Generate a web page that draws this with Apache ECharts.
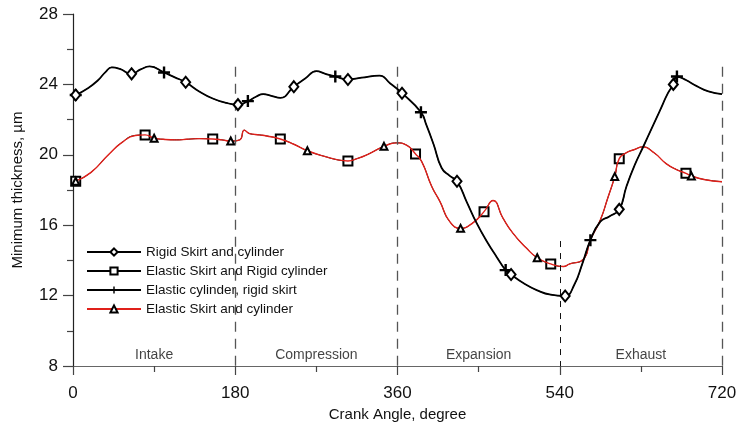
<!DOCTYPE html>
<html>
<head>
<meta charset="utf-8">
<script src="https://cdn.jsdelivr.net/npm/echarts@6/dist/echarts.min.js"></script>
<style>
  html, body { margin: 0; padding: 0; background: #fff; }
  #chart { width: 741px; height: 427px; }
</style>
</head>
<body>
<div id="chart"></div>
<script>
// Minimum oil-film thickness over one four-stroke cycle.

// Rigid-skirt curve (shared by the "rigid skirt and cylinder" and "elastic cylinder, rigid skirt" cases)
const rigidAngle = [3, 17, 28, 36, 43, 52, 65, 75, 85, 101, 113, 125, 140, 155, 170, 183, 194, 203, 211, 220, 230, 245, 258, 270, 280, 291, 305, 320, 340, 352, 365, 386, 392, 400, 409, 418, 426, 437, 448, 460, 470, 480, 486, 500, 515, 530, 546, 556, 565, 574, 585, 595, 606, 614, 623, 633, 642, 651, 660, 666, 670, 680, 692, 705, 720];
const rigidThickness = [23.4, 23.8, 24.25, 24.7, 24.97, 24.88, 24.6, 24.85, 25.02, 24.68, 24.4, 24.12, 23.6, 23.2, 22.95, 22.85, 23.05, 23.3, 23.45, 23.35, 23.24, 23.87, 24.35, 24.75, 24.6, 24.45, 24.28, 24.38, 24.5, 24.05, 23.5, 22.42, 21.7, 20.6, 19.25, 18.8, 18.5, 17.3, 16.1, 15.0, 14.2, 13.45, 13.2, 12.7, 12.3, 12.05, 11.98, 12.6, 13.8, 15.15, 16.2, 16.5, 16.9, 18.2, 19.4, 20.5, 21.5, 22.5, 23.5, 24.0, 24.45, 24.25, 23.9, 23.6, 23.45];

// Elastic-skirt curve (shared by the "elastic skirt" cases)
const elasticAngle = [3, 20, 39, 54, 69, 80, 90, 100, 115, 126, 140, 155, 165, 175, 185, 190, 196, 207, 215, 230, 245, 260, 281, 295, 305, 316, 326, 345, 359, 370, 380, 387, 398, 407, 418, 430, 444, 456, 466, 477, 488, 503, 515, 530, 544, 551, 566, 574, 585, 593, 601, 606, 614, 623, 632, 645, 658, 670, 680, 686, 700, 720];
const elasticThickness = [18.5, 19.0, 19.99, 20.69, 21.1, 21.13, 20.94, 20.88, 20.85, 20.88, 20.92, 20.9, 20.85, 20.78, 20.85, 21.4, 21.2, 21.13, 21.07, 20.9, 20.6, 20.23, 19.88, 19.7, 19.65, 19.8, 20.0, 20.48, 20.68, 20.55, 20.05, 19.6, 18.2, 17.35, 16.2, 15.82, 16.15, 16.77, 17.4, 16.4, 15.55, 14.7, 14.15, 13.8, 13.65, 13.8, 14.05, 15.16, 16.3, 17.5, 18.76, 19.78, 20.12, 20.3, 20.45, 20.1, 19.5, 19.15, 18.95, 18.8, 18.6, 18.47];

// Crank angles carrying a marker for each case
const diamondAt = [3, 65, 125, 183, 245, 305, 365, 426, 486, 546, 606, 666];
const plusAt = [3, 101, 194, 291, 386, 480, 574, 670];
const squareAt = [3, 80, 155, 230, 305, 380, 456, 530, 606, 680];
const triangleAt = [3, 90, 175, 260, 345, 430, 515, 601, 686];

const seriesNames = [
  'Rigid Skirt and cylinder',
  'Elastic Skirt and Rigid cylinder',
  'Elastic cylinder, rigid skirt',
  'Elastic Skirt and cylinder'
];

// Stroke phases and their boundaries
const phaseNames = ['Intake', 'Compression', 'Expansion', 'Exhaust'];
const phaseCenters = [90, 270, 450, 630];
const strokeBounds = [180, 360, 540, 720];
const boundTop = [25, 25, 15.1, 25];

const xTicks = [0, 180, 360, 540, 720];
const yTicks = [8, 12, 16, 20, 24, 28];

const FONT = "'Liberation Sans', Arial, sans-serif";
const SMOOTH = 0.5;

function curve(angles, values, marks) {
  return angles.map((a, i) => {
    const item = { value: [a, values[i]] };
    if (marks.indexOf(a) < 0) item.symbol = 'none';
    return item;
  });
}

const PLUS = 'path://M4,0H6V4H10V6H6V10H4V6H0V4H4Z';

const chart = echarts.init(document.getElementById('chart'), null, { renderer: 'canvas' });

chart.setOption({
  animation: false,
  backgroundColor: '#fff',
  grid: { left: 73, right: 19, top: 14, bottom: 61, containLabel: false },
  legend: {
    orient: 'vertical',
    left: 81,
    top: 240,
    itemWidth: 54,
    itemHeight: 9,
    itemGap: 5,
    data: seriesNames,
    textStyle: { fontFamily: FONT, fontSize: 13.5, color: '#111' },
    selectedMode: false
  },
  xAxis: {
    type: 'value',
    min: xTicks[0],
    max: xTicks[xTicks.length - 1],
    interval: 180,
    name: 'Crank Angle, degree',
    nameLocation: 'middle',
    nameGap: 41,
    nameTextStyle: { fontFamily: FONT, fontSize: 15, color: '#111' },
    axisLine: { lineStyle: { color: '#666', width: 1.2 } },
    axisTick: { inside: false, length: 9, lineStyle: { color: '#444', width: 1.2 } },
    minorTick: { show: true, splitNumber: 2, length: 6, lineStyle: { color: '#444', width: 1.2 } },
    axisLabel: { fontFamily: FONT, fontSize: 17, color: '#111', margin: 19 },
    splitLine: { show: false }
  },
  yAxis: {
    type: 'value',
    min: yTicks[0],
    max: yTicks[yTicks.length - 1],
    interval: 4,
    name: 'Minimum thickness, \u00b5m',
    nameLocation: 'middle',
    nameGap: 48,
    nameTextStyle: { fontFamily: FONT, fontSize: 15, color: '#111' },
    axisLine: { show: true, lineStyle: { color: '#222', width: 1.2 } },
    axisTick: { inside: false, length: 10, lineStyle: { color: '#444', width: 1.2 } },
    minorTick: { show: true, splitNumber: 2, length: 6, lineStyle: { color: '#444', width: 1.2 } },
    axisLabel: { fontFamily: FONT, fontSize: 17, color: '#111', margin: 15 },
    splitLine: { show: false }
  },
  series: [
    {
      name: seriesNames[1],
      type: 'line',
      smooth: SMOOTH,
      z: 2,
      symbol: 'emptyRect',
      symbolSize: 9,
      color: '#000',
      lineStyle: { color: '#000', width: 1 },
      itemStyle: { color: '#000', borderColor: '#000', borderWidth: 1.1 },
      emphasis: { disabled: true },
      data: curve(elasticAngle, elasticThickness, squareAt)
    },
    {
      name: seriesNames[3],
      type: 'line',
      smooth: SMOOTH,
      z: 3,
      symbol: 'emptyTriangle',
      symbolSize: 7,
      color: '#e0201a',
      lineStyle: { color: '#e0201a', width: 1.4 },
      itemStyle: { color: '#000', borderColor: '#000', borderWidth: 2 },
      emphasis: { disabled: true },
      data: curve(elasticAngle, elasticThickness, triangleAt)
    },
    {
      name: seriesNames[2],
      type: 'line',
      smooth: SMOOTH,
      z: 4,
      symbol: PLUS,
      symbolSize: 12,
      color: '#000',
      lineStyle: { color: '#000', width: 1 },
      itemStyle: { color: '#000' },
      emphasis: { disabled: true },
      data: curve(rigidAngle, rigidThickness, plusAt)
    },
    {
      name: seriesNames[0],
      type: 'line',
      smooth: SMOOTH,
      z: 5,
      symbol: 'emptyDiamond',
      symbolSize: [9, 11],
      color: '#000',
      lineStyle: { color: '#000', width: 1.8 },
      itemStyle: { color: '#000', borderColor: '#000', borderWidth: 0.8 },
      emphasis: { disabled: true },
      data: curve(rigidAngle, rigidThickness, diamondAt)
    },
    {
      // stroke names and stroke boundaries
      type: 'scatter',
      z: 1,
      symbolSize: 0,
      silent: true,
      data: phaseCenters.map((c, i) => ({ value: [c, yTicks[0]], name: phaseNames[i] })),
      label: {
        show: true,
        position: 'top',
        distance: 4,
        formatter: p => p.name,
        fontFamily: FONT,
        fontSize: 14,
        color: '#111'
      },
      markLine: {
        silent: true,
        symbol: 'none',
        label: { show: false },
        data: strokeBounds.map((b, i) => [
          {
            coord: [b, boundTop[i]],
            lineStyle: i === 2
              ? { type: [6, 6], color: '#111', width: 1 }
              : { type: [10, 7], color: '#555', width: 1.3 }
          },
          { coord: [b, yTicks[0]] }
        ])
      }
    }
  ]
});
</script>
</body>
</html>
